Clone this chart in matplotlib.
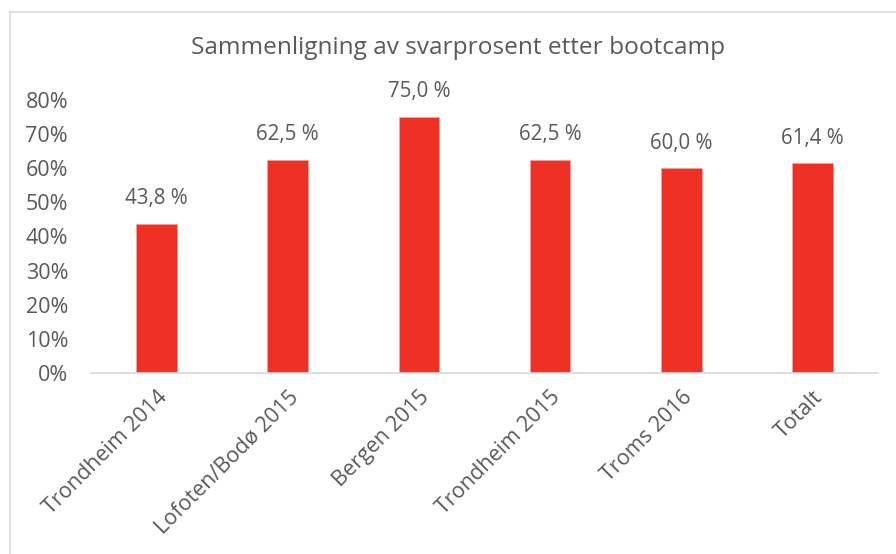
import matplotlib
matplotlib.use("Agg")
import matplotlib.pyplot as plt
from matplotlib.lines import Line2D
import numpy as np

categories = ["Trondheim 2014", "Lofoten/Bodø 2015", "Bergen 2015",
              "Trondheim 2015", "Troms 2016", "Totalt"]
values = [43.8, 62.5, 75.0, 62.5, 60.0, 61.4]
value_labels = ["43,8 %", "62,5 %", "75,0 %", "62,5 %", "60,0 %", "61,4 %"]
y_ticks = [0, 10, 20, 30, 40, 50, 60, 70, 80]

TEXT = "#595959"
RED = "#EE3124"
FONT = ["Open Sans", "DejaVu Sans"]

plt.rcParams["font.family"] = FONT

W, H = 896, 554
fig = plt.figure(figsize=(W / 100, H / 100), dpi=100)
ax = fig.add_axes([91 / W, 1 - 373 / H, (878 - 91) / W, (373 - 100) / H])

x = np.arange(len(categories))
ax.bar(x, values, width=0.31, color=RED, edgecolor="#F4A09A", linewidth=0.6)

for xi, v, lab in zip(x, values, value_labels):
    ax.annotate(lab, (xi, v), xytext=(0, 10.5), textcoords="offset points",
                ha="center", va="bottom", fontsize=14.8, color=TEXT,
                annotation_clip=False)

ax.set_xlim(-0.5, len(categories) - 0.5)
ax.set_ylim(0, 80)
ax.set_yticks(y_ticks)
ax.set_yticklabels([f"{t}%" for t in y_ticks], fontsize=15.5, color=TEXT)
ax.set_xticks(x)
ax.set_xticklabels(categories, rotation=45, ha="right", rotation_mode="anchor",
                   fontsize=15.5, color=TEXT)
ax.tick_params(axis="both", length=0)
ax.tick_params(axis="y", pad=16.5)
ax.tick_params(axis="x", pad=10)

for side in ["top", "right", "left"]:
    ax.spines[side].set_visible(False)
ax.spines["bottom"].set_color("#D9D9D9")
ax.spines["bottom"].set_linewidth(1.2)

fig.text(458 / W, 1 - 48 / H, "Sammenligning av svarprosent etter bootcamp",
         ha="center", va="center", fontsize=17.6, color=TEXT)

# chart frame (cropped on the right and bottom)
fig.add_artist(Line2D([10 / W, 10 / W], [0, 1 - 12 / H], color="#D9D9D9",
                      linewidth=1.2, transform=fig.transFigure))
fig.add_artist(Line2D([10 / W, 1], [1 - 12 / H, 1 - 12 / H], color="#D9D9D9",
                      linewidth=1.2, transform=fig.transFigure))

fig.savefig("out.png", dpi=100)
